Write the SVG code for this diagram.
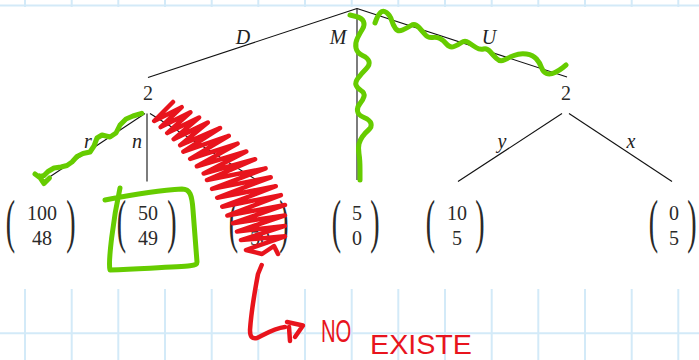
<svg xmlns="http://www.w3.org/2000/svg" width="699" height="360" viewBox="0 0 699 360">
<style>
.grid line{stroke:#d3eaf8;stroke-width:2}
.edge{stroke:#111;stroke-width:1.1;fill:none}
.lbl{font-family:"Liberation Serif",serif;font-style:italic;font-size:20px;fill:#222;text-anchor:middle}
.num{font-family:"Liberation Serif",serif;font-size:20px;fill:#2a2a2a;text-anchor:middle}
.par{font-family:"Liberation Serif",serif;font-size:28px;fill:#2a2a2a}
.green{stroke:#66cc00;stroke-width:5;fill:none;stroke-linecap:round;stroke-linejoin:round}
.red{stroke:#e8141d;stroke-width:4.5;fill:none;stroke-linecap:round;stroke-linejoin:round}
.hand{font-family:"Liberation Sans",sans-serif;fill:#e8141d}
</style>
<rect width="699" height="360" fill="#ffffff"/>
<g class="grid">
<line x1="25" y1="0" x2="25" y2="360"/><line x1="71.7" y1="0" x2="71.7" y2="360"/><line x1="118.3" y1="0" x2="118.3" y2="360"/><line x1="165" y1="0" x2="165" y2="360"/><line x1="211.7" y1="0" x2="211.7" y2="360"/><line x1="258.3" y1="0" x2="258.3" y2="360"/><line x1="305" y1="0" x2="305" y2="360"/><line x1="351.7" y1="0" x2="351.7" y2="360"/><line x1="398.3" y1="0" x2="398.3" y2="360"/><line x1="445" y1="0" x2="445" y2="360"/><line x1="491.7" y1="0" x2="491.7" y2="360"/><line x1="538.3" y1="0" x2="538.3" y2="360"/><line x1="585" y1="0" x2="585" y2="360"/><line x1="631.7" y1="0" x2="631.7" y2="360"/><line x1="678.3" y1="0" x2="678.3" y2="360"/>
<line x1="0" y1="5.5" x2="699" y2="5.5"/><line x1="0" y1="333.3" x2="699" y2="333.3"/>
</g>
<rect x="0" y="7" width="699" height="282" fill="#ffffff"/>
<g id="connectors">
<path class="edge" d="M357,8.5 L148,77.5"/>
<path class="edge" d="M357,8.5 L357,180"/>
<path class="edge" d="M357,8.5 L567,77"/>
<path class="edge" d="M145,113.5 L42,182"/>
<path class="edge" d="M147,113.5 L147,181.5"/>
<path class="edge" d="M150,113.5 L259,181.5"/>
<path class="edge" d="M562,113.5 L458,181.5"/>
<path class="edge" d="M569,113.5 L672,181.5"/>
<text class="lbl" x="243" y="44">D</text>
<text class="lbl" x="338" y="44">M</text>
<text class="lbl" x="489" y="44">U</text>
<text class="lbl" x="88" y="148">r</text>
<text class="lbl" x="137" y="148">n</text>
<text class="lbl" x="502" y="148">y</text>
<text class="lbl" x="631" y="148">x</text>
</g>
<g id="node-left"><text class="num" x="148" y="100">2</text></g>
<g id="node-right"><text class="num" x="566" y="100">2</text></g>
<g id="leaf-1">
<text class="par" transform="translate(5.7,241.3) scale(1,2.093)">(</text>
<text class="num" x="42" y="220">100</text><text class="num" x="42" y="245">48</text>
<text class="par" transform="translate(66.2,241.3) scale(1,2.093)">)</text>
</g>
<g id="leaf-2">
<text class="par" transform="translate(116.7,241.3) scale(1,2.093)">(</text>
<text class="num" x="148" y="220">50</text><text class="num" x="148" y="245">49</text>
<text class="par" transform="translate(167.2,241.3) scale(1,2.093)">)</text>
</g>
<g id="leaf-3">
<text class="par" transform="translate(228.7,241.3) scale(1,2.093)">(</text>
<text class="num" x="260" y="245">50</text>
<text class="par" transform="translate(279.2,241.3) scale(1,2.093)">)</text>
</g>
<g id="leaf-4">
<text class="par" transform="translate(331.7,241.3) scale(1,2.093)">(</text>
<text class="num" x="357" y="220">5</text><text class="num" x="357" y="245">0</text>
<text class="par" transform="translate(370.2,241.3) scale(1,2.093)">)</text>
</g>
<g id="leaf-5">
<text class="par" transform="translate(425.7,241.3) scale(1,2.093)">(</text>
<text class="num" x="457" y="220">10</text><text class="num" x="457" y="245">5</text>
<text class="par" transform="translate(475.2,241.3) scale(1,2.093)">)</text>
</g>
<g id="leaf-6">
<text class="par" transform="translate(648.7,241.3) scale(1,2.093)">(</text>
<text class="num" x="674" y="220">0</text><text class="num" x="674" y="245">5</text>
<text class="par" transform="translate(687.2,241.3) scale(1,2.093)">)</text>
</g>
<g id="annotations">
<path class="green" d="M141.7,113.3 L133,116 L126,119 L120,125 L116,133 L110,137 L102,135 L97,138 L94,146 L90,152 L83,153.5 L77,156.5 L72,162 L67,165.5 L61,167 L54,168 L48,171.5 L44,175.5 L39,177 L35,174 M39,176 L44,183.5 L49.5,178"/>
<path class="green" d="M350,15 L356,16.5 Q362,18 363.5,21.5 Q365,25 362.5,29 Q360,33 357.5,38 Q355,43 356,48 Q357,53 362.5,55.5 Q368,58 369,61.5 Q370,65 366,69 Q362,73 358.5,77.5 Q355,82 356,85 Q357,88 361,90.5 Q365,93 364,96.5 Q363,100 360,103.5 Q357,107 357.5,111 Q358,115 364,117.5 Q370,120 371,123.5 Q372,127 368.5,130 Q365,133 362.5,136.5 Q360,140 359,144 Q358,148 359,154 Q360,160 360,170 L360,180"/>
<path class="green" d="M375,23 L376.5,19 Q378,15 380.5,12.5 Q383,10 386.5,12.5 Q390,15 391.5,20 Q393,25 395.5,28.5 Q398,32 402.5,30 Q407,28 411,25.5 Q415,23 419,27.5 Q423,32 425.5,35 Q428,38 432.5,37.5 Q437,37 440,38.5 Q443,40 446.5,44 Q450,48 454,46.5 Q458,45 461.5,42.5 Q465,40 468.5,42.5 Q472,45 476,47.5 Q480,50 483.5,49 Q487,48 490,51.5 Q493,55 496.5,58.5 Q500,62 504,60 Q508,58 514,55.5 Q520,53 526.5,54 Q533,55 536.5,59 Q540,63 541.5,67.5 Q543,72 546.5,73.5 Q550,75 555,72.5 Q560,70 563,67.5 L566,65"/>
<path class="green" d="M105,200 C130,195 160,190 182,189 C190,189 192,195 193,210 L197,262 C197,267 192,266 110,270 C108,262 113,220 120,188"/>
<polyline class="red" points="173,102 154.2,121 181.7,107.2 160.7,127.1 190.4,112.3 167.2,133.1 199.1,117.5 173.7,139.1 207.8,122.6 180.2,145.2 220,128 183.4,151.7 228.8,135.8 190.2,158.9 237.6,143.6 196.9,166.3 246.3,151.5 203.7,173.5 255.1,159.2 207,180 265.6,168.4 212.1,188.9 270.7,177.3 217.2,197.8 275.8,186.2 222.3,206.7 280.9,195.1 227.4,215.6 285,205 233,223.2 285,215.4 237,231.6 285,225.9 241,240.1 285,236.3 246,250 262,254 274,246 278,254"/>
<path class="red" d="M261.7,265 L258,274 C255,290 251,315 250,330 C250,337 252,339 257,338 C265,334 275,328 285,327"/>
<path class="red" d="M287,322 L303,325.5 L295,337 M289,327 L290,341"/>
<text class="hand"><tspan x="321" y="342" font-size="32" textLength="36" lengthAdjust="spacingAndGlyphs">NO </tspan><tspan x="370" y="354" font-size="27" textLength="102" lengthAdjust="spacingAndGlyphs">EXISTE</tspan></text>
</g>
</svg>
